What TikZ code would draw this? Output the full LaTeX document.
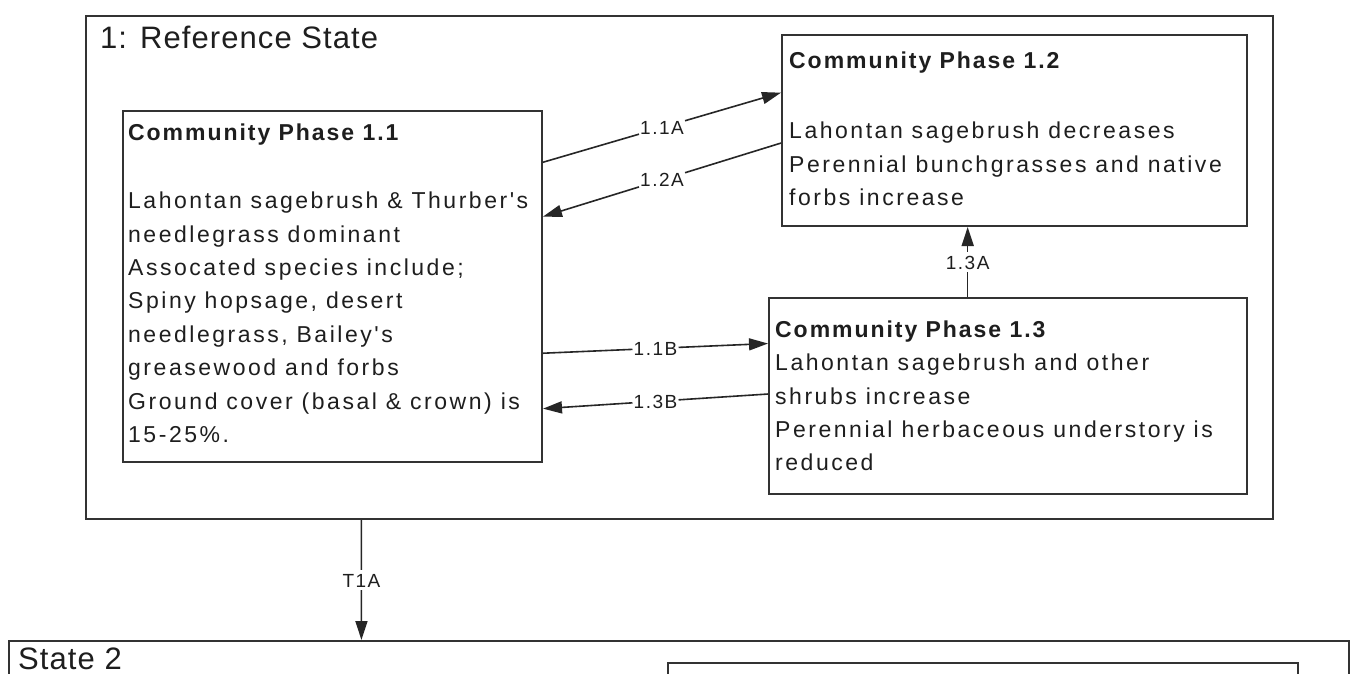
\documentclass[tikz,border=0pt]{standalone}
\usepackage{fontspec}
\setmainfont{Liberation Sans}
\newfontfamily\bodyfont{Liberation Sans}[LetterSpace=11]
\newfontfamily\titlefont{Liberation Sans Bold}[LetterSpace=8.5]
\newfontfamily\headfont{Liberation Sans}[LetterSpace=3.5]
\newfontfamily\lblfont{Liberation Sans}[LetterSpace=8]
\usetikzlibrary{arrows.meta,calc}
\definecolor{boxline}{HTML}{333333}
\definecolor{txt}{HTML}{1E1E1E}
\tikzset{
 box/.style={draw=boxline, line width=2pt, anchor=north west, inner sep=0pt},
 body/.style={anchor=north west, inner sep=0pt, align=left, text=txt, font=\bodyfont\fontsize{23}{33.4}\selectfont},
 seg/.style={draw=black!85, line width=1.6pt},
 conn/.style={seg, -{Triangle[length=19pt,width=12pt]}},
 lbl/.style={fill=white, inner xsep=1pt, inner ysep=3pt, text height=14pt, text depth=0pt, text=txt, font=\lblfont\fontsize{19}{21}\selectfont},
 head/.style={anchor=base west, inner sep=0pt, text=txt, font=\headfont\fontsize{31}{34}\selectfont},
}
\begin{document}
\begin{tikzpicture}[x=1pt,y=-1pt]
\clip (0,0) rectangle (1354,673);
\fill[white] (0,0) rectangle (1354,673);
% State 1
\node[box, minimum width=1187pt, minimum height=503pt] (s1) at (85,15) {};
\node[head] (s1t) at (100,48) {1: Reference State};
% Phase boxes
\node[box, minimum width=419pt, minimum height=351pt] (p11) at (122,110) {};
\node[box, minimum width=465pt, minimum height=191pt] (p12) at (781,34) {};
\node[box, minimum width=478pt, minimum height=196pt] (p13) at (768,297) {};
% Phase texts
\node[body] (p11t) at (128,123) {\rule{0pt}{17pt}{\titlefont Community Phase 1.1}\\[35pt]
Lahontan sagebrush \& Thurber's\\
needlegrass dominant\\
Assocated species include;\\
Spiny hopsage, desert\\
needlegrass, Bailey's\\
greasewood and forbs\\
Ground cover (basal \& crown) is\\
15-25\%.};
\node[body] (p12t) at (789,51) {\rule{0pt}{17pt}{\titlefont Community Phase 1.2}\\[37pt]
Lahontan sagebrush decreases\\
Perennial bunchgrasses and native\\
forbs increase};
\node[body] (p13t) at (775,320) {\rule{0pt}{17pt}{\titlefont Community Phase 1.3}\\
Lahontan sagebrush and other\\
shrubs increase\\
Perennial herbaceous understory is\\
reduced};
% State 2
\node[box, minimum width=1340pt, minimum height=120pt] (s2) at (8,640) {};
\node[head] (s2t) at (18,669) {State 2};
\node[box, minimum width=630pt, minimum height=100pt] (s2p) at (667,662) {};
% connector end points
\coordinate (a1s) at ($(p11.north east)!0.148!(p11.south east)$);
\coordinate (a1e) at ($(p12.north west)!0.304!(p12.south west)$);
\coordinate (a2s) at ($(p12.north west)!0.565!(p12.south west)$);
\coordinate (a2e) at ($(p11.north east)!0.302!(p11.south east)$);
\coordinate (b1s) at ($(p11.north east)!0.689!(p11.south east)$);
\coordinate (b1e) at ($(p13.north west)!0.235!(p13.south west)$);
\coordinate (b3s) at ($(p13.north west)!0.49!(p13.south west)$);
\coordinate (b3e) at ($(p11.north east)!0.846!(p11.south east)$);
\coordinate (c13) at ($(p13.north west)!0.416!(p13.north east)$);
\coordinate (c13e) at (c13 |- p12.south);
\coordinate (ct1) at ($(s1.south west)!0.2325!(s1.south east)$);
\coordinate (ct1e) at (ct1 |- s2.north);
% labels
\node[lbl] (l11a) at ($(a1s)!0.5!(a1e)$) {1.1A};
\node[lbl] (l12a) at ($(a2s)!0.5!(a2e)$) {1.2A};
\node[lbl] (l11b) at ($(b1s)!0.5!(b1e)$) {1.1B};
\node[lbl] (l13b) at ($(b3s)!0.5!(b3e)$) {1.3B};
\node[lbl] (l13a) at ($(c13)!0.5!(c13e)$) {1.3A};
\node[lbl] (lt1a) at ($(ct1)!0.5!(ct1e)$) {T1A};
% connectors
\draw[seg] (a1s) -- (l11a);  \draw[conn] (l11a) -- (a1e);
\draw[seg] (a2s) -- (l12a);  \draw[conn] (l12a) -- (a2e);
\draw[seg] (b1s) -- (l11b);  \draw[conn] (l11b) -- (b1e);
\draw[seg] (b3s) -- (l13b);  \draw[conn] (l13b) -- (b3e);
\draw[seg] (c13) -- (l13a);  \draw[conn] (l13a) -- (c13e);
\draw[seg] (ct1) -- (lt1a);  \draw[conn] (lt1a) -- (ct1e);
\end{tikzpicture}
\end{document}
